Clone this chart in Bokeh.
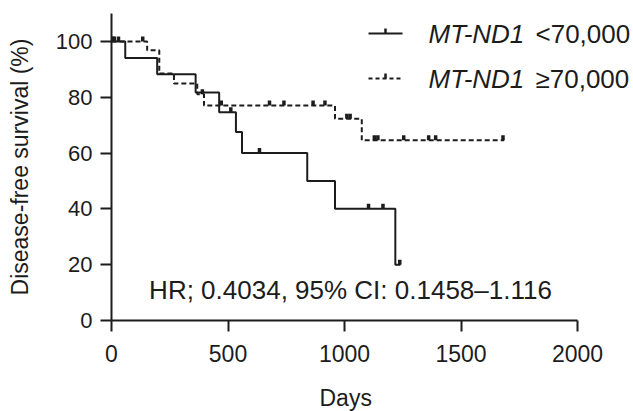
import numpy as np
from bokeh.plotting import figure
from bokeh.models import Range1d, Label, Arrow, FixedTicker, Title
from bokeh.embed import file_html
from bokeh.resources import INLINE

# ---- data ----
low_days = [0, 59, 196, 361, 462, 534, 560, 840, 959, 1218, 1240]
low_surv = [100, 94.1, 88.2, 81.7, 74.6, 67.5, 60.0, 50.0, 40.0, 20.0, 20.0]
low_censor_days = [5, 30, 512, 635, 1103, 1165, 1237]

high_days = [0, 153, 205, 268, 368, 397, 959, 1074, 1685]
high_surv = [100, 96.8, 88.5, 84.9, 81.1, 77.0, 72.3, 64.6, 64.6]
high_censor_days = [12, 134, 390, 471, 678, 740, 865, 916, 1010, 1024,
                    1128, 1143, 1254, 1361, 1391, 1680]

x_ticks = [0, 500, 1000, 1500, 2000]
y_ticks = [0, 20, 40, 60, 80, 100]

legend_low = ("MT-ND1", "<70,000")
legend_high = ("MT-ND1", "\u226570,000")
hr_text = "HR; 0.4034, 95% CI: 0.1458\u20131.116"
x_title = "Days"
y_title = "Disease-free survival (%)"

FONT = "Liberation Sans"
INK = "#1c1c1c"


def step_value(days, surv, t):
    i = np.searchsorted(np.asarray(days), t, side="right") - 1
    return surv[max(i, 0)]


# frame spans 111..633 px; the x axis itself is bounded to 0..2000
p = figure(width=633, height=411,
           x_range=Range1d(0, 2240), y_range=Range1d(0, 110),
           output_backend="svg", toolbar_location=None,
           min_border_left=111, min_border_right=0,
           min_border_top=13, min_border_bottom=91)
p.outline_line_color = None
p.xgrid.grid_line_color = None
p.ygrid.grid_line_color = None
p.background_fill_color = "white"
p.border_fill_color = "white"

for ax, ticks in ((p.xaxis, x_ticks), (p.yaxis, y_ticks)):
    ax.ticker = FixedTicker(ticks=ticks)
    ax.minor_tick_line_color = None
    ax.major_tick_in = 0
    ax.major_tick_out = 11
    ax.axis_line_width = 2
    ax.major_tick_line_width = 2
    ax.axis_line_color = INK
    ax.major_tick_line_color = INK
    ax.major_label_text_font = FONT
    ax.major_label_text_font_size = "22px"
    ax.major_label_text_color = INK
    ax.axis_label_text_font = FONT
    ax.axis_label_text_font_size = "23px"
    ax.axis_label_text_font_style = "normal"
    ax.axis_label_text_color = INK

p.xaxis.bounds = (x_ticks[0], x_ticks[-1])
p.xaxis.major_label_text_font_size = "23px"
p.yaxis.axis_label = y_title
p.xaxis.major_label_standoff = 13
p.yaxis.major_label_standoff = 8
p.yaxis.axis_label_standoff = 20

# spacer between the tick labels and the x-axis title
p.add_layout(Title(text=" ", standoff=0, text_font=FONT,
                   text_font_size="14px"), "below")
# x-axis title, centred under the bounded axis (0..2000 -> 111..577 px)
p.add_layout(Title(text=x_title, align="left", offset=208, standoff=0,
                   text_font=FONT, text_font_size="23px",
                   text_font_style="normal", text_color=INK), "below")

# ---- curves ----
p.step(low_days, low_surv, mode="after", line_color=INK, line_width=2)
p.step(high_days, high_surv, mode="after", line_color=INK, line_width=2,
       line_dash="5 3")

# censor ticks (pointing up from the curve)
tick_h = 5 * 110 / 307
lc_y = [step_value(low_days, low_surv, t) for t in low_censor_days]
hc_y = [step_value(high_days, high_surv, t) for t in high_censor_days]
p.segment(x0=low_censor_days, y0=lc_y, x1=low_censor_days,
          y1=[v + tick_h for v in lc_y], line_color=INK, line_width=3.5)
p.segment(x0=high_censor_days, y0=hc_y, x1=high_censor_days,
          y1=[v + tick_h for v in hc_y], line_color=INK, line_width=3.5)

# ---- legend (screen units, from bottom-left of frame) ----
rows = [(287, None, legend_low), (242, "4 3", legend_high)]
for y, dash, (gene, rest) in rows:
    kw = dict(line_color=INK, line_width=2)
    if dash:
        kw["line_dash"] = dash
    p.add_layout(Arrow(start=None, end=None, x_start=257, y_start=y,
                       x_end=291, y_end=y, start_units="screen",
                       end_units="screen", **kw))
    p.add_layout(Arrow(start=None, end=None, x_start=274, y_start=y,
                       x_end=274, y_end=y + 5, start_units="screen",
                       end_units="screen", line_color=INK, line_width=2.5))
    p.add_layout(Label(x=317, y=y, x_units="screen", y_units="screen",
                       text=gene, text_font=FONT, text_font_size="26px",
                       text_font_style="italic", text_color=INK,
                       text_baseline="middle", text_align="left"))
    p.add_layout(Label(x=424, y=y, x_units="screen", y_units="screen",
                       text=rest, text_font=FONT, text_font_size="26px",
                       text_color=INK, text_baseline="middle",
                       text_align="left"))

p.add_layout(Label(x=239, y=31, x_units="screen", y_units="screen",
                   text=hr_text, text_font=FONT, text_font_size="26px",
                   text_color=INK, text_baseline="middle",
                   text_align="center"))

open("out.html", "w").write(file_html(p, INLINE))
